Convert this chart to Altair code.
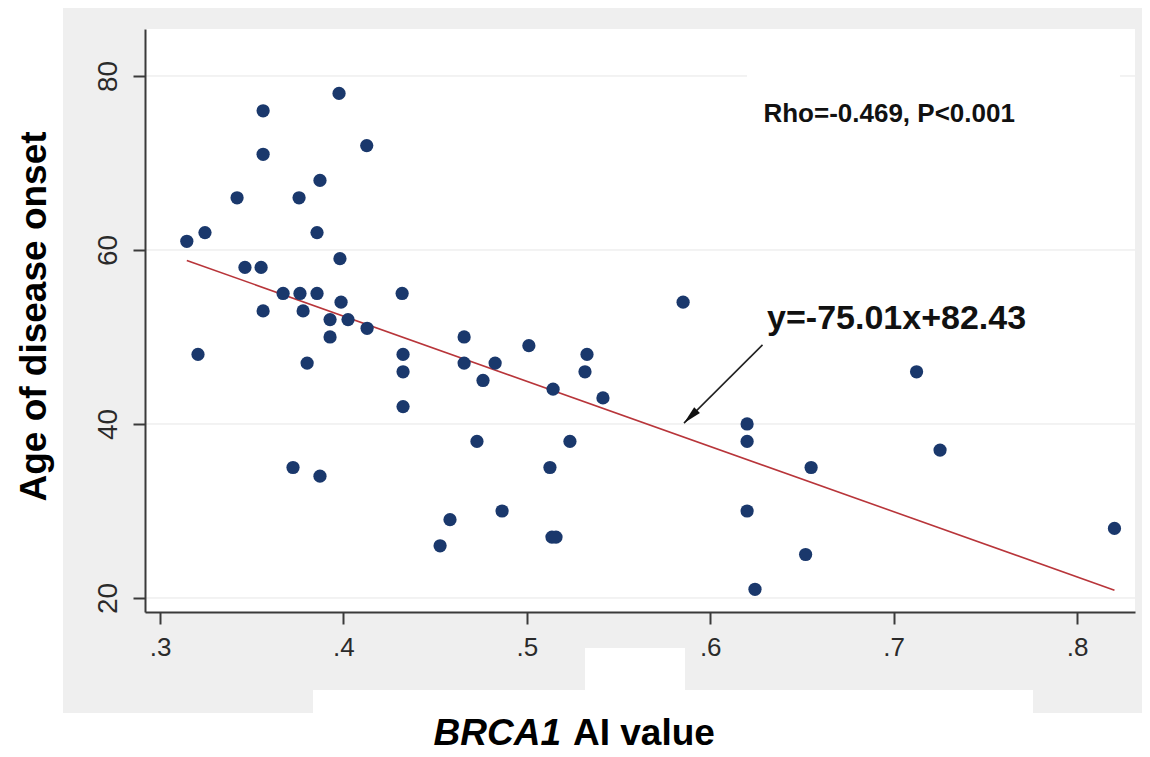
import altair as alt
import pandas as pd

# ---- data ----
ai_value = [0.3146, 0.3245, 0.3207, 0.3420, 0.3463, 0.3551, 0.3562, 0.3562, 0.3562,
            0.3671, 0.3725, 0.3758, 0.3763, 0.3780, 0.3802, 0.3856, 0.3872, 0.3856,
            0.3872, 0.3927, 0.3927, 0.3976, 0.3981, 0.3987, 0.4025, 0.4127, 0.4129,
            0.4320, 0.4325, 0.4325, 0.4325, 0.4527, 0.4581, 0.4658, 0.4658, 0.4728,
            0.4761, 0.4827, 0.4865, 0.5011, 0.5143, 0.5126, 0.5137, 0.5159, 0.5235,
            0.5328, 0.5317, 0.5415, 0.5852, 0.6201, 0.6201, 0.6201, 0.6244, 0.6520,
            0.6550, 0.7125, 0.7253, 0.8204]
age_onset = [61, 62, 48, 66, 58, 58, 76, 71, 53,
             55, 35, 66, 55, 53, 47, 62, 68, 55,
             34, 50, 52, 78, 59, 54, 52, 72, 51,
             55, 48, 46, 42, 26, 29, 50, 47, 38,
             45, 47, 30, 49, 44, 35, 27, 27, 38,
             48, 46, 43, 54, 40, 38, 30, 21, 25,
             35, 46, 37, 28]

fit_x = [0.3146, 0.8204]
fit_y = [58.8, 20.9]

x_ticks = [0.3, 0.4, 0.5, 0.6, 0.7, 0.8]
y_ticks = [20, 40, 60, 80]

stat_text = "Rho=-0.469, P<0.001"
stat_pos = [0.6290, 74.7]
eq_text = "y=-75.01x+82.43"
eq_pos = [0.6310, 50.9]
arrow_from = [0.6285, 49.1]
arrow_to = [0.5857, 40.1]

y_title = "Age of disease onset"
x_title_italic = "BRCA1"
x_title_rest = "AI value"

# ---- layout / style ----
W, H = 990, 583
X_DOMAIN = [0.2918, 0.8316]
Y_DOMAIN = [18.39, 85.4]
FONT = "Liberation Sans, Arial, Helvetica, sans-serif"
NAVY = "#1a386c"
MAROON = "#b8353a"
AXIS_C = "#3a3a3a"
PAD_R, PAD_B = 7, 145

pts = pd.DataFrame({"ai": ai_value, "age": age_onset})
fit = pd.DataFrame({"ai": fit_x, "age": fit_y})
grid = pd.DataFrame({"age": y_ticks})
one = pd.DataFrame({"k": [0]})

xs = alt.Scale(domain=X_DOMAIN, nice=False, zero=False)
ys = alt.Scale(domain=Y_DOMAIN, nice=False, zero=False)

x_axis = alt.Axis(values=x_ticks, title=None, grid=False,
                  labelExpr="substring(format(datum.value, '.1f'), 1)",
                  domainColor=AXIS_C, domainWidth=2, tickColor=AXIS_C, tickWidth=2,
                  tickSize=12, labelFont=FONT, labelFontSize=26, labelColor="#2a2a2a",
                  labelPadding=10, zindex=1)
y_axis = alt.Axis(values=y_ticks, title=y_title, grid=False,
                  titleFont=FONT, titleFontSize=37, titleFontWeight="bold", titleColor="#000000",
                  titleAngle=270, titleAlign="center", titleBaseline="middle",
                  titleX=-111, titleY=287,
                  domainColor=AXIS_C, domainWidth=2, tickColor=AXIS_C, tickWidth=2,
                  tickSize=12, labelFont=FONT, labelFontSize=28, labelColor="#2a2a2a",
                  labelAngle=270, labelAlign="center", labelBaseline="bottom",
                  labelPadding=11, zindex=1)

X = lambda f: alt.X(f, type="quantitative", scale=xs, axis=x_axis)
Y = lambda f: alt.Y(f, type="quantitative", scale=ys, axis=y_axis)

base = alt.Chart(one)
gray_bg = base.mark_rect(color="#efefef").encode(
    x=alt.value(-82), x2=alt.value(W + PAD_R), y=alt.value(-21), y2=alt.value(H + 101))
white_plot = base.mark_rect(color="#ffffff").encode(
    x=alt.value(0), x2=alt.value(W), y=alt.value(0), y2=alt.value(H))
white_strip = base.mark_rect(color="#ffffff").encode(
    x=alt.value(168), x2=alt.value(888), y=alt.value(661), y2=alt.value(H + 101))
white_box = base.mark_rect(color="#ffffff").encode(
    x=alt.value(440), x2=alt.value(540), y=alt.value(619), y2=alt.value(662))

gridlines = alt.Chart(grid).mark_rule(color="#e6e6e6", strokeWidth=1).encode(
    y=Y("age"), x=alt.value(0), x2=alt.value(W))
stat_box = base.mark_rect(color="#ffffff").encode(
    x=alt.value(602), x2=alt.value(975), y=alt.value(38), y2=alt.value(60))

fit_line = alt.Chart(fit).mark_line(color=MAROON, strokeWidth=1.6).encode(
    x=X("ai"), y=Y("age"))

points = alt.Chart(pts).mark_circle(size=175, color=NAVY, opacity=1).encode(
    x=X("ai"), y=Y("age"))

stat = alt.Chart(pd.DataFrame({"ai": [stat_pos[0]], "age": [stat_pos[1]], "t": [stat_text]})).mark_text(
    font=FONT, fontSize=26, fontWeight="bold", color="#111111", align="left", baseline="alphabetic"
).encode(x=X("ai"), y=Y("age"), text="t:N")

eq = alt.Chart(pd.DataFrame({"ai": [eq_pos[0]], "age": [eq_pos[1]], "t": [eq_text]})).mark_text(
    font=FONT, fontSize=34, fontWeight="bold", color="#111111", align="left", baseline="alphabetic"
).encode(x=X("ai"), y=Y("age"), text="t:N")

arrow_df = pd.DataFrame({"ai": [arrow_from[0]], "age": [arrow_from[1]],
                         "ai2": [arrow_to[0]], "age2": [arrow_to[1]]})
arrow_line = alt.Chart(arrow_df).mark_rule(color="#222222", strokeWidth=1.6).encode(
    x=X("ai"), y=Y("age"), x2="ai2:Q", y2="age2:Q")
arrow_head = alt.Chart(pd.DataFrame({"ai": [arrow_to[0]], "age": [arrow_to[1]]})).mark_point(
    shape="M0,0 L-0.4,1.8 L0.4,1.8 Z", size=420, angle=225, filled=True,
    color="#111111", opacity=1).encode(x=X("ai"), y=Y("age"))

xt1 = base.mark_text(text=x_title_italic, font=FONT, fontSize=37, fontWeight="bold",
                     fontStyle="italic", color="#000000", align="right",
                     baseline="alphabetic").encode(x=alt.value(416), y=alt.value(716))
xt2 = base.mark_text(text=x_title_rest, font=FONT, fontSize=37, fontWeight="bold",
                     color="#000000", align="left",
                     baseline="alphabetic").encode(x=alt.value(428), y=alt.value(716))

chart = alt.layer(
    gray_bg, white_plot, white_strip, white_box, gridlines, stat_box,
    fit_line, points, stat, eq, arrow_line, arrow_head, xt1, xt2
).properties(
    width=W, height=H,
    autosize=alt.AutoSizeParams(type="none"),
    padding={"left": 137, "top": 21, "right": PAD_R, "bottom": PAD_B},
    background="#ffffff",
).configure_view(stroke=None)

chart.save("out.html", embed_options={"renderer": "svg", "actions": False})
